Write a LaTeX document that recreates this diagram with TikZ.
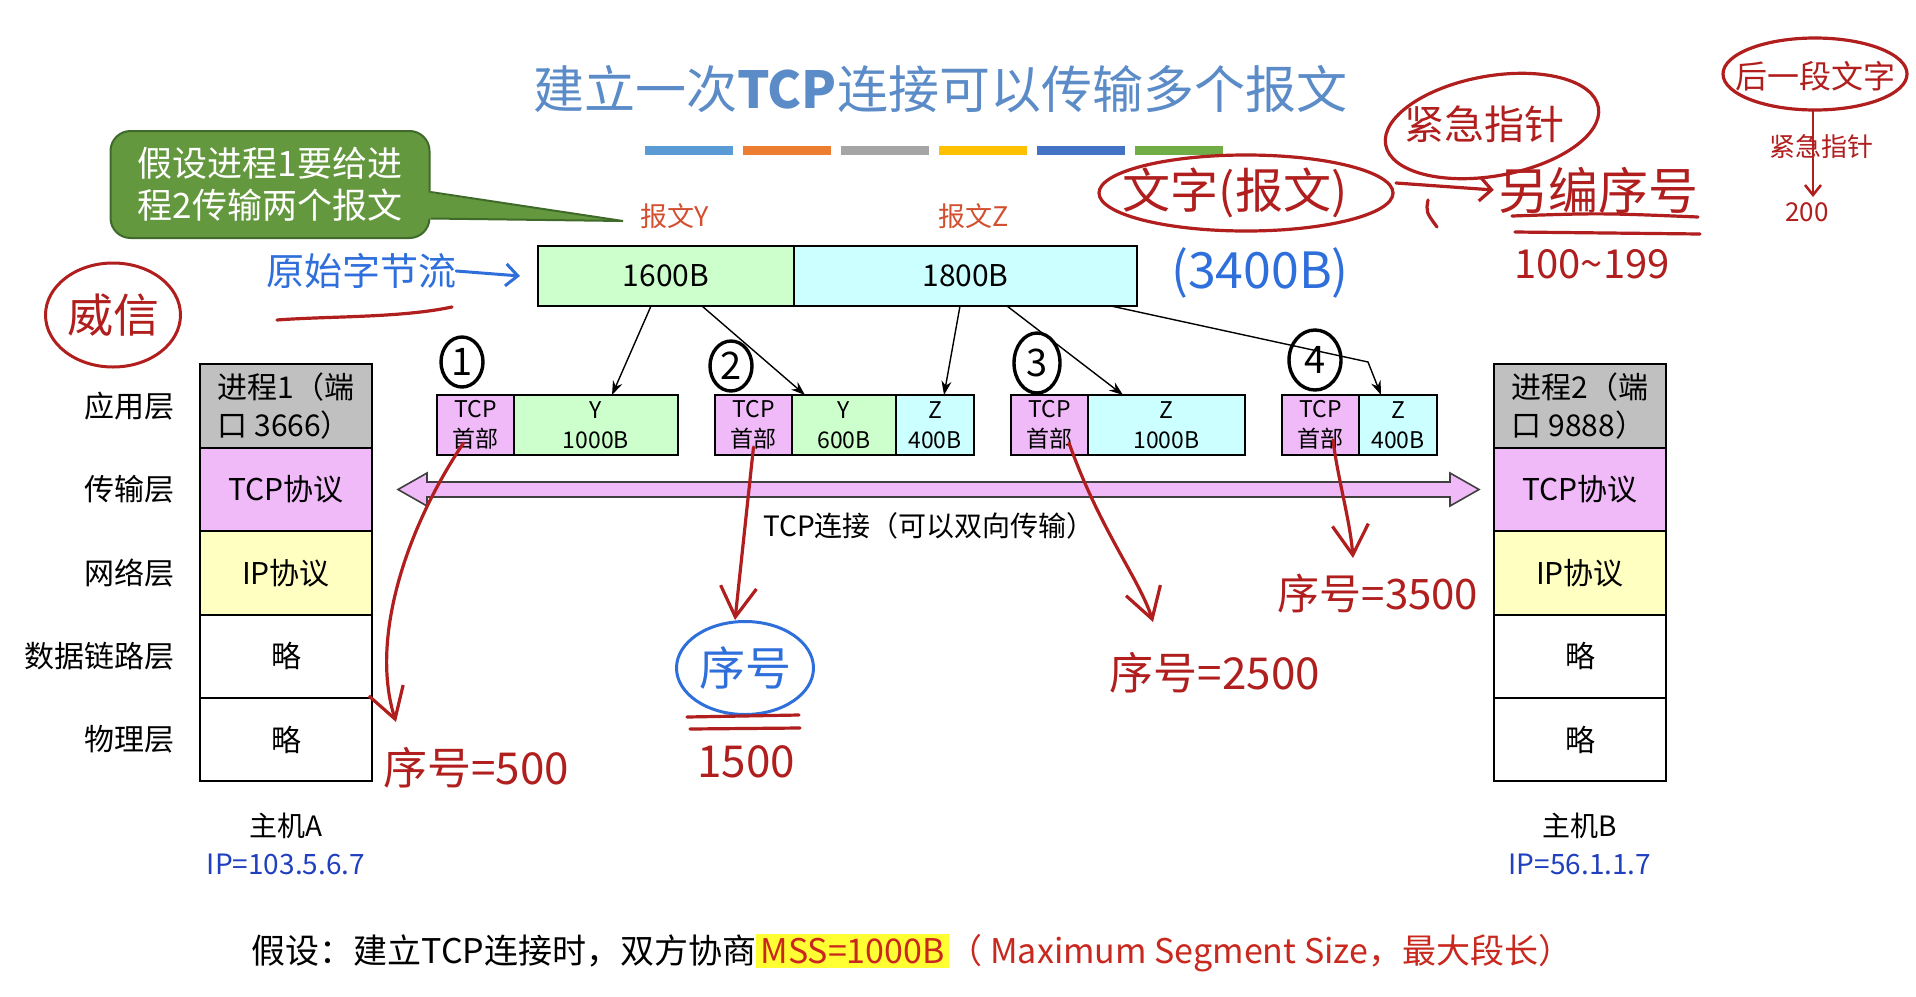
\documentclass[tikz,border=0pt]{standalone}
\usepackage{fontspec}
\setmainfont{Noto Sans CJK SC}
\usetikzlibrary{positioning,arrows.meta,shapes.geometric}

\definecolor{titleblue}{HTML}{5B8CC8}
\definecolor{notegreen}{HTML}{64983E}
\definecolor{notedark}{HTML}{3F6A2A}
\definecolor{appgray}{HTML}{C0C0C0}
\definecolor{tcppink}{HTML}{F0B9F8}
\definecolor{ipyellow}{HTML}{FFFFC2}
\definecolor{ygreen}{HTML}{CCFFCC}
\definecolor{zcyan}{HTML}{CCFFFF}
\definecolor{msgred}{HTML}{D2502F}
\definecolor{ipblue}{HTML}{2040C0}
\definecolor{mssred}{HTML}{C8281E}
\definecolor{mssyellow}{HTML}{FFFF33}
\definecolor{hred}{HTML}{B01E1E}
\definecolor{hblue}{HTML}{2F6FDC}
\definecolor{ofblue}{HTML}{5B9BD5}
\definecolor{oforange}{HTML}{ED7D31}
\definecolor{ofgray}{HTML}{A5A5A5}
\definecolor{ofyellow}{HTML}{FFC000}
\definecolor{ofdblue}{HTML}{4472C4}
\definecolor{ofgreen}{HTML}{70AD47}

\newcommand*{\rowh}{83.4}
\newcommand*{\segy}{425}

\begin{document}
\begin{tikzpicture}
[
	x=1pt, y=-1pt,
	layer/.style={draw,line width=2pt,minimum width=172,minimum height=\rowh,inner sep=0pt,outer sep=0pt,font=\fontsize{30}{38}\selectfont},
	lname/.style={inner sep=0pt,font=\fontsize{30}{36}\selectfont},
	hostname/.style={inner sep=0pt,font=\fontsize{28}{34}\selectfont},
	ipaddr/.style={inner sep=0pt,text=ipblue,font=\fontsize{28}{34}\selectfont},
	datapart/.style={draw,line width=2pt,minimum height=60,inner sep=0pt,outer sep=0pt,font=\fontsize{30}{36}\selectfont},
	segpart/.style={draw,line width=1.6pt,minimum height=60,inner sep=0pt,outer sep=0pt,align=center,font=\fontsize{23}{30}\selectfont},
	msglabel/.style={inner sep=0pt,text=msgred,font=\fontsize{27}{32}\selectfont},
	split/.style={-{Stealth[length=14pt,width=10pt]},line width=1.4pt},
	numring/.style={ellipse,draw,line width=3.4pt,inner sep=0pt,font=\fontsize{38}{38}\selectfont},
	hand/.style={hred,line width=3.2pt,line cap=round,line join=round},
	handtip/.style={-{Straight Barb[length=30pt,width=36pt]}},
	hnote/.style={text=hred,inner sep=0pt}
]

	\fill[white] (0,0) rectangle (1916,996);
	\useasboundingbox (0,0) rectangle (1916,996);

	% title
	\node[text=titleblue,font=\fontsize{51}{60}\selectfont] (title) at (940,89) {建立一次{\bfseries TCP}连接可以传输多个报文};
	\foreach \c [count=\i from 0] in {ofblue,oforange,ofgray,ofyellow,ofdblue,ofgreen}
		\fill[\c] (645+98*\i,146) rectangle ++(88,9);

	% note
	\node[draw=notedark,line width=2pt,fill=notegreen,rounded corners=20pt,minimum width=319,minimum height=107,
		text=white,align=left,font=\fontsize{35}{42}\selectfont] (note) at (270,184.5) {假设进程1要给进\\程2传输两个报文};
	\coordinate (tipY) at (623,221);
	\fill[notegreen] ([xshift=-6pt,yshift=-7.5pt]note.east) -- (tipY) -- ([xshift=-6pt,yshift=-34pt]note.east) -- cycle;
	\draw[notedark,line width=2pt] ([yshift=-7.5pt]note.east) -- (tipY) -- ([yshift=-34pt]note.east);

	% byte stream
	\node[msglabel] (lblY) at (675,216) {报文Y};
	\node[msglabel] (lblZ) at (974,216) {报文Z};
	\node[datapart,fill=ygreen,minimum width=256] (d1) at (666,276) {1600B};
	\node[datapart,fill=zcyan,minimum width=343,right=0pt of d1] (d2) {1800B};

	% segments
	\node[segpart,fill=tcppink,minimum width=77] (h1) at (475.5,\segy) {TCP\\首部};
	\node[segpart,fill=ygreen,minimum width=164,right=0pt of h1] (y1) {Y\\1000B};
	\node[segpart,fill=tcppink,minimum width=77] (h2) at (753.5,\segy) {TCP\\首部};
	\node[segpart,fill=ygreen,minimum width=104,right=0pt of h2] (y2) {Y\\600B};
	\node[segpart,fill=zcyan,minimum width=78,right=0pt of y2] (z2) {Z\\400B};
	\node[segpart,fill=tcppink,minimum width=77] (h3) at (1049.5,\segy) {TCP\\首部};
	\node[segpart,fill=zcyan,minimum width=157,right=0pt of h3] (z3) {Z\\1000B};
	\node[segpart,fill=tcppink,minimum width=77] (h4) at (1320.5,\segy) {TCP\\首部};
	\node[segpart,fill=zcyan,minimum width=78,right=0pt of h4] (z4) {Z\\400B};

	\node[numring,minimum width=42,minimum height=50] (n1) at (462,362) {1};
	\node[numring,minimum width=42,minimum height=50] (n2) at (731,366) {2};
	\node[numring,minimum width=46,minimum height=60] (n3) at (1037,363) {3};
	\node[numring,minimum width=52,minimum height=60] (n4) at (1315,360) {4};

	\draw[split] ([xshift=113pt]d1.south west) -- ([xshift=98pt]y1.north west);
	\draw[split] ([xshift=164pt]d1.south west) -- ([xshift=13pt]y2.north west);
	\draw[split] ([xshift=166pt]d2.south west) -- ([xshift=48pt]z2.north west);
	\draw[split] ([xshift=213pt]d2.south west) -- ([xshift=35pt]z3.north west);
	\draw[split] ([xshift=317pt]d2.south west) -- ([xshift=9pt,yshift=33pt]z4.north west) -- ([xshift=22pt]z4.north west);

	% host A
	\node[layer,fill=appgray,align=left] (a1) at (286,406) {进程1（端\\口 3666）};
	\node[layer,fill=tcppink,below=0pt of a1] (a2) {TCP协议};
	\node[layer,fill=ipyellow,below=0pt of a2] (a3) {IP协议};
	\node[layer,below=0pt of a3] (a4) {略};
	\node[layer,below=0pt of a4] (a5) {略};
	\node[lname,left=25pt of a1] (ln1) {应用层};
	\node[lname,left=25pt of a2] (ln2) {传输层};
	\node[lname,left=25pt of a3] (ln3) {网络层};
	\node[lname,left=25pt of a4] (ln4) {数据链路层};
	\node[lname,left=25pt of a5] (ln5) {物理层};
	\node[hostname] (hostA) at (286,826) {主机A};
	\node[ipaddr] (ipA) at (286,864) {IP=103.5.6.7};

	% host B
	\node[layer,fill=appgray,align=left] (b1) at (1580,406) {进程2（端\\口 9888）};
	\node[layer,fill=tcppink,below=0pt of b1] (b2) {TCP协议};
	\node[layer,fill=ipyellow,below=0pt of b2] (b3) {IP协议};
	\node[layer,below=0pt of b3] (b4) {略};
	\node[layer,below=0pt of b4] (b5) {略};
	\node[hostname] (hostB) at (1580,826) {主机B};
	\node[ipaddr] (ipB) at (1580,864) {IP=56.1.1.7};

	% connection
	\draw[line width=1.6pt,draw=black!75,fill=tcppink] (398,489.5) -- ++(29,-16.5) -- ++(0,9) -- (1450,482) -- ++(0,-9)
		-- (1479,489.5) -- (1450,506) -- ++(0,-9) -- (427,497) -- ++(0,9) -- cycle;
	\node[font=\fontsize{28}{34}\selectfont] (connlabel) at (929,526) {TCP连接（可以双向传输）};

	% assumption
	\node[font=\fontsize{34}{40}\selectfont] (assume) at (912,953) {假设：建立TCP连接时，双方协商{\setlength{\fboxsep}{4pt}\colorbox{mssyellow}{\textcolor{mssred}{MSS=1000B}}}\textcolor{mssred}{（ Maximum Segment Size，最大段长）}};

	% handwriting
	\node[hnote,ellipse,draw=hred,line width=3pt,minimum width=135,minimum height=104,font=\fontsize{46}{46}\selectfont] (weixin) at (113,315) {威信};
	\node[hnote,text=hblue,font=\fontsize{38}{38}\selectfont] (rawflow) at (361,271) {原始字节流};
	\draw[hblue,line width=3pt,line cap=round,-{Straight Barb[length=12pt,width=22pt]}] (rawflow.east) -- ([xshift=-18pt]d1.west);
	\draw[hand] (277,320) .. controls (330,316) and (400,318) .. (452,307);
	\node[hnote,text=hblue,font=\fontsize{50}{50}\selectfont] (total) at (1260,273) {(3400B)};

	\node[hnote,font=\fontsize{48}{48}\selectfont] (wenzi) at (1235,193) {文字(报文)};
	\draw[hand] ([xshift=11pt]wenzi.center) ellipse [x radius=147,y radius=38];
	\node[hnote,font=\fontsize{40}{40}\selectfont] (urgent) at (1484,124) {紧急指针};
	\draw[hand,rotate around={10:(1492,126)}] (1492,126) ellipse [x radius=108,y radius=50];
	\node[hnote,font=\fontsize{50}{50}\selectfont] (renumber) at (1598,190) {另编序号};
	\draw[hand,-{Straight Barb[length=12pt,width=24pt]}] (1396,183) -- ([xshift=-4pt]renumber.west);
	\draw[hand] (1428,200) .. controls (1426,212) .. (1437,227);
	\draw[hand] (1512,216) .. controls (1600,213) .. (1698,217);
	\draw[hand] (1515,232) -- (1700,234);
	\node[hnote,font=\fontsize{40}{40}\selectfont] (range) at (1592,264) {100\textasciitilde199};

	\node[hnote,font=\fontsize{32}{32}\selectfont] (nextpart) at (1815,76) {后一段文字};
	\draw[hand] (1815,74) ellipse [x radius=92,y radius=36];
	\node[hnote,font=\fontsize{26}{26}\selectfont] (urgent2) at (1821,147) {紧急指针};
	\draw[hand,line width=2.5pt,-{Straight Barb[length=10pt,width=16pt]}] (1813,110) -- (1813,197);
	\node[hnote,font=\fontsize{26}{26}\selectfont] (n200) at (1807,212) {200};

	% sequence numbers
	\coordinate (tip1) at (396,722);
	\draw[hand,handtip] ([xshift=-12pt,yshift=-18pt]h1.center) .. controls (405,530) and (370,640) .. (tip1);
	\node[hnote,font=\fontsize{44}{44}\selectfont] (seq1) at (476,768) {序号=500};

	\node[hnote,ellipse,draw=hblue,text=hblue,line width=3pt,minimum width=137,minimum height=93,font=\fontsize{46}{46}\selectfont] (seq2) at (745,668) {序号};
	\draw[hand,handtip] ([yshift=-22pt]h2.center) -- ([xshift=-10pt]seq2.north);
	\draw[hand] (687,717) -- (799,715);
	\draw[hand] (690,729) -- (800,728);
	\node[hnote,font=\fontsize{44}{44}\selectfont] (seq2n) at (746,762) {1500};

	\coordinate (tip3) at (1153,622);
	\draw[hand,handtip] ([xshift=19.5pt,yshift=-18pt]h3.center) .. controls (1100,530) and (1140,580) .. (tip3);
	\node[hnote,font=\fontsize{44}{44}\selectfont] (seq3) at (1215,673) {序号=2500};

	\coordinate (tip4) at (1353,558);
	\draw[hand,handtip] ([xshift=12.5pt,yshift=-15pt]h4.center) .. controls (1338,480) and (1350,520) .. (tip4);
	\node[hnote,font=\fontsize{42}{42}\selectfont] (seq4) at (1378,593) {序号=3500};

\end{tikzpicture}
\end{document}
